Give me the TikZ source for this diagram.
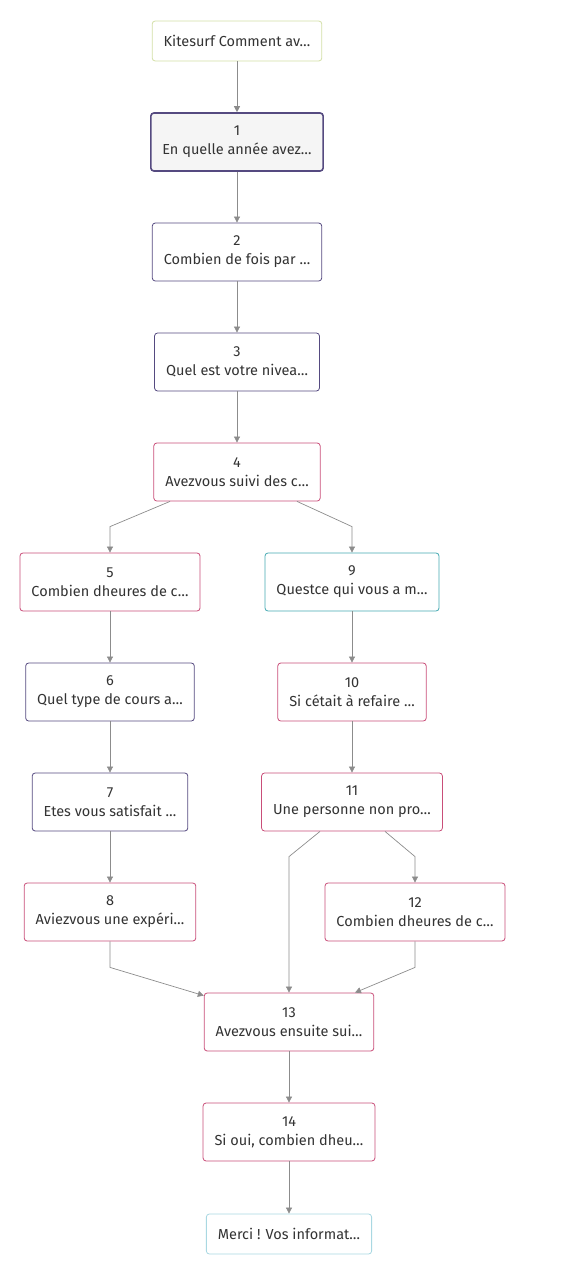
\documentclass[tikz,border=0pt]{standalone}
\usepackage{fontspec}
\setmainfont{Fira Sans}
\usetikzlibrary{arrows.meta}

\definecolor{qpurple}{HTML}{554A80}
\definecolor{qpink}{HTML}{C94E79}
\definecolor{qteal}{HTML}{45A9B2}
\definecolor{qstart}{HTML}{D3DFA6}
\definecolor{qend}{HTML}{A9D8E2}
\definecolor{qedge}{HTML}{8C8C8C}

\tikzset{
  qbox/.style={draw, rounded corners=3pt, fill=white, align=center,
    inner xsep=11.5pt, minimum height=58pt, line width=0.8pt,
    font=\fontsize{14.5}{19}\selectfont, text=black!80},
  qpurplebox/.style={qbox, draw=qpurple},
  qpinkbox/.style={qbox, draw=qpink},
  qtealbox/.style={qbox, draw=qteal},
  edge/.style={draw=qedge, line width=0.7pt, -{Triangle[length=6pt,width=6pt]}}
}

\begin{document}
\begin{tikzpicture}[x=1pt, y=-1pt]
  \useasboundingbox (0,0) rectangle (578,1266);

  % intro and common questions
  \node[qbox, draw=qstart, minimum height=40pt] (intro) at (237,41) {Kitesurf Comment av\dots};
  \node[qbox, draw=qpurple, fill=black!4, line width=1.6pt] (q1) at (237,142) {1\\En quelle année avez\dots};
  \node[qpurplebox] (q2) at (237,252) {2\\Combien de fois par \dots};
  \node[qpurplebox] (q3) at (237,362) {3\\Quel est votre nivea\dots};
  \node[qpinkbox] (q4) at (237,472) {4\\Avezvous suivi des c\dots};

  % left branch
  \node[qpinkbox] (q5) at (110,582) {5\\Combien dheures de c\dots};
  \node[qpurplebox] (q6) at (110,692) {6\\Quel type de cours a\dots};
  \node[qpurplebox] (q7) at (110,802) {7\\Etes vous satisfait \dots};
  \node[qpinkbox] (q8) at (110,912) {8\\Aviezvous une expéri\dots};

  % right branch
  \node[qtealbox] (q9) at (352,582) {9\\Questce qui vous a m\dots};
  \node[qpinkbox] (q10) at (352,692) {10\\Si cétait à refaire \dots};
  \node[qpinkbox] (q11) at (352,802) {11\\Une personne non pro\dots};
  \node[qpinkbox] (q12) at (415,912) {12\\Combien dheures de c\dots};

  % end
  \node[qpinkbox] (q13) at (289,1022) {13\\Avezvous ensuite sui\dots};
  \node[qpinkbox] (q14) at (289,1132) {14\\Si oui, combien dheu\dots};
  \node[qbox, draw=qend, minimum height=40pt] (outro) at (289,1234) {Merci ! Vos informat\dots};

  \draw[edge] (intro) -- (q1);
  \draw[edge] (q1) -- (q2);
  \draw[edge] (q2) -- (q3);
  \draw[edge] (q3) -- (q4);
  \draw[edge] ([xshift=-67pt]q4.south) -- ([yshift=26pt]q5.north) -- (q5.north);
  \draw[edge] ([xshift=60pt]q4.south) -- ([yshift=26pt]q9.north) -- (q9.north);
  \draw[edge] (q5) -- (q6);
  \draw[edge] (q6) -- (q7);
  \draw[edge] (q7) -- (q8);
  \draw[edge] (q9) -- (q10);
  \draw[edge] (q10) -- (q11);
  \draw[edge] ([xshift=-32pt]q11.south) -- ([yshift=136pt]q13.north) -- (q13.north);
  \draw[edge] ([xshift=33pt]q11.south) -- ([yshift=26pt]q12.north) -- (q12.north);
  \draw[edge] (q8.south) -- ([yshift=-26pt]q8.south) -- ([yshift=-3pt]q13.north west);
  \draw[edge] (q12.south) -- ([yshift=-26pt]q12.south) -- ([xshift=66pt]q13.north);
  \draw[edge] (q13) -- (q14);
  \draw[edge] (q14) -- (outro);
\end{tikzpicture}
\end{document}
